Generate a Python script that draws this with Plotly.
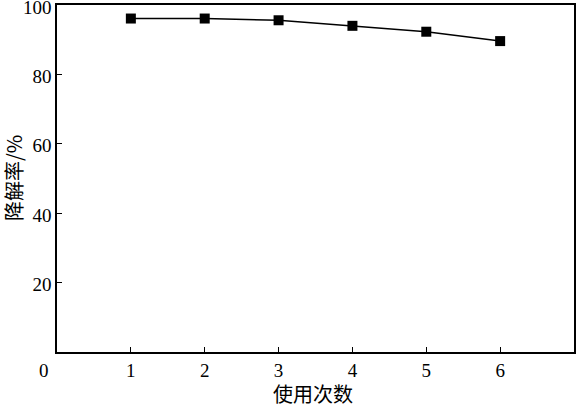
import plotly.graph_objects as go

uses = [1, 2, 3, 4, 5, 6]
degradation = [96.1, 96.1, 95.6, 94.0, 92.3, 89.6]
x_ticks = [1, 2, 3, 4, 5, 6]
y_ticks = [20, 40, 60, 80, 100]

serif = "Liberation Serif"
cjk = "Noto Sans CJK SC"

fig = go.Figure(go.Scatter(
    x=uses, y=degradation, mode="lines+markers",
    line=dict(color="black", width=1.5),
    marker=dict(symbol="square", size=10, color="black"),
))

L, R, T, B = 57, 2, 5, 55
W, H = 576, 407
pw, ph = W - L - R, H - T - B

fig.update_layout(
    width=W, height=H,
    margin=dict(l=L, r=R, t=T, b=B),
    paper_bgcolor="white", plot_bgcolor="white",
    showlegend=False,
    xaxis=dict(
        range=[0, 7], tickvals=x_ticks, ticktext=[str(v) for v in x_ticks],
        ticks="inside", ticklen=5, tickwidth=1.3, tickcolor="black",
        showline=True, linecolor="black", linewidth=1.5, mirror=True,
        showgrid=False, zeroline=False, automargin=False,
        ticklabeloverflow="allow",
        tickfont=dict(family=serif, size=19, color="black"),
    ),
    yaxis=dict(
        range=[0, 100], tickvals=y_ticks, ticktext=[str(v) for v in y_ticks],
        ticks="inside", ticklen=5, tickwidth=1.3, tickcolor="black",
        showline=True, linecolor="black", linewidth=1.5, mirror=True,
        showgrid=False, zeroline=False, automargin=False,
        ticklabeloverflow="allow", ticklabelshift=2,
        tickfont=dict(family=serif, size=19, color="black"),
    ),
)

fig.add_annotation(
    x=0, y=0, xref="x", yref="y", text="0", showarrow=False,
    xanchor="right", yanchor="top", xshift=-6, yshift=-6,
    font=dict(family=serif, size=19, color="black"),
)
fig.add_annotation(
    x=(313 - L) / pw, y=(H - B - 393) / ph, xref="paper", yref="paper",
    text="使用次数", showarrow=False, xanchor="center", yanchor="middle",
    font=dict(family=cjk, size=20, color="black"),
)
fig.add_annotation(
    x=(13 - L) / pw, y=(H - B - 178) / ph, xref="paper", yref="paper",
    text="降解率/%", showarrow=False, textangle=-90, xanchor="center", yanchor="middle",
    font=dict(family=cjk, size=20, color="black"),
)

fig.write_html("out.html", config={"displayModeBar": False},
               post_script="document.body.style.margin='0';")
